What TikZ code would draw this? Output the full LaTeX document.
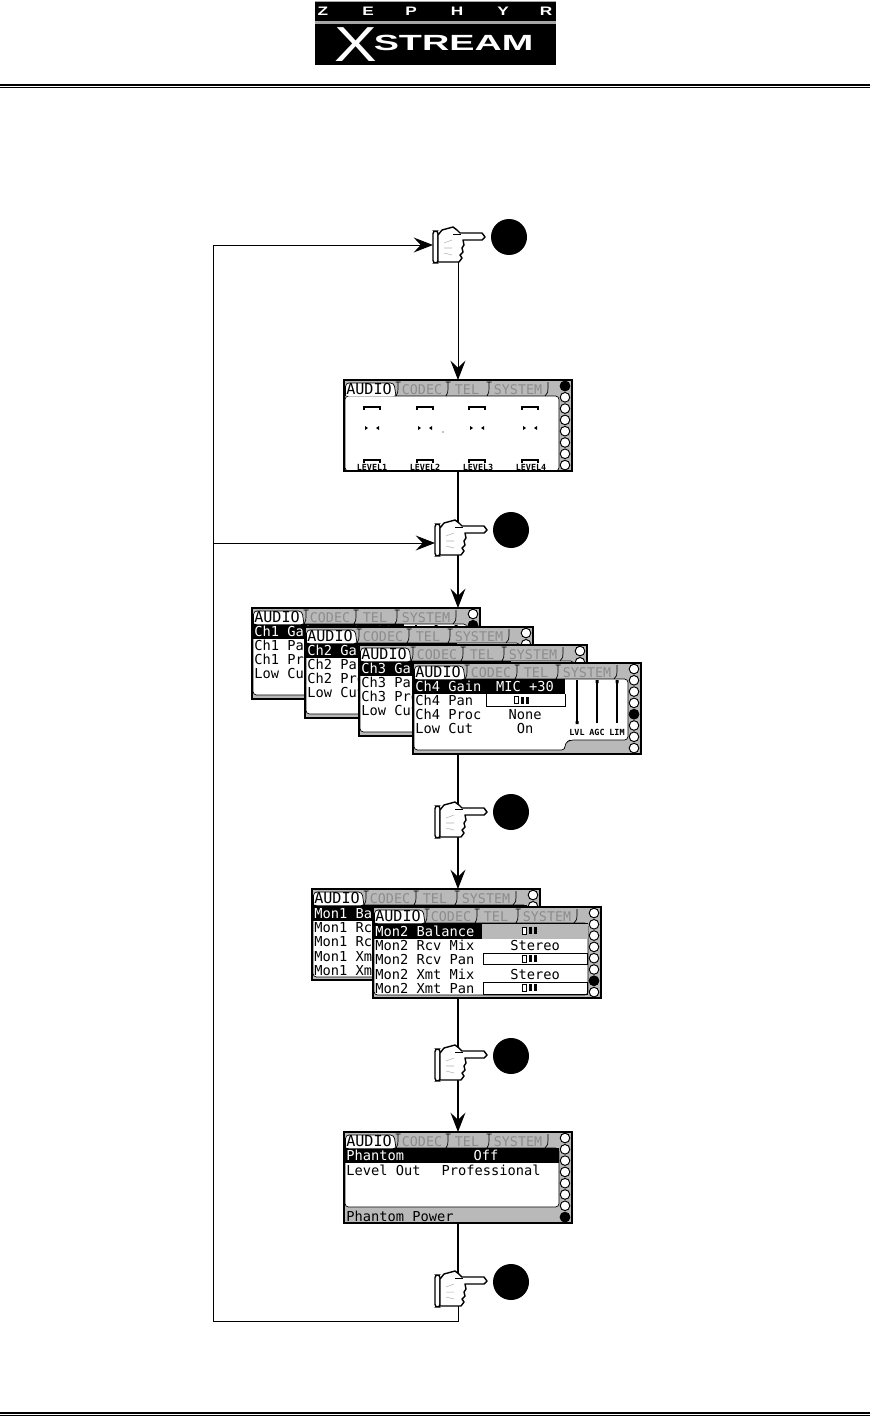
\documentclass[tikz,border=0pt]{standalone}
\usepackage{fontspec}
\usetikzlibrary{arrows.meta}
\setmonofont{DejaVu Sans Mono}
\setsansfont{Liberation Sans}

% the empty screen: gray frame, then #5 (its content), then tabs and the eight buttons
\newcommand{\lcdscreen}[5]{%
  \node[lcdframe] (#1) at (#2,#3) {};
  \begin{scope}[shift={(#1.north west)}]
    #5
    \fill[white, rounded corners=2] (1.5,16.3) -- (1.5,3) -- (50,3) -- (52,16.3) -- cycle;
    \draw[lcdthin, rounded corners=2] (1.5,16) -- (1.5,3) -- (50,3) -- (52,16);
    \draw[lcdthin] (52,16) .. controls (54,14) and (54,13) .. (54,2) (51.5,2) -- (56.5,2)
      (102,16) .. controls (104,14) and (104,13) .. (104,2) (101.5,2) -- (106.5,2)
      (143,16) .. controls (145,14) and (145,13) .. (145,2) (142.5,2) -- (147.5,2)
      (201,16) .. controls (204,14) and (204,13) .. (204,2);
    \node[lcdtab] (#1audio) at (25,9.5) {AUDIO};
    \node[lcdtabdim] (#1codec) at (78,9.5) {CODEC};
    \node[lcdtabdim] (#1tel) at (123,9.5) {TEL};
    \node[lcdtabdim] (#1system) at (174,9.5) {SYSTEM};
    \draw[lcdthin, line width=0.55pt, fill=white] (221,6) circle (4.8) (221,17.3) circle (4.8)
      (221,28.6) circle (4.8) (221,39.9) circle (4.8) (221,51.2) circle (4.8)
      (221,62.5) circle (4.8) (221,73.8) circle (4.8) (221,85.1) circle (4.8);
    \fill[black] (221,{6+(#4-1)*11.3}) circle (5.2);
  \end{scope}
  \draw[lcdline] (#1.north west) rectangle (#1.south east);
}
% the small balance glyph of a pan row
\newcommand{\lcdslider}[2]{%
  \draw[lcdthin, fill=white] (#1-8,#2-3.5) rectangle (#1-4,#2+3.5);
  \fill[black] (#1-1,#2-3.5) rectangle (#1+2,#2+3.5);
  \fill[black] (#1+3.5,#2-3.5) rectangle (#1+6.5,#2+3.5);
}
% input channel screen
\newcommand{\chscreen}[4]{%
  \lcdscreen{ch#1}{#2}{#3}{#4}{%
    \draw[lcdthin, fill=white, rounded corners=2] (1,16) -- (215,16) -- (215,77) -- (157,77)
      -- (152,80) -- (152,87) -- (1,87) -- cycle;
    \fill[black] (1,16) rectangle (152,31);
    \draw[lcdthin] (73,31) -- (73,43) -- (152,43) -- (152,31);
    \node[lcdrow, text=white] (ch#1gain) at (2,24) {Ch#1 Gain};
    \node[lcdvalue, text=white] (ch#1mic) at (112,24) {MIC +30};
    \node[lcdrow] (ch#1pan) at (2,38) {Ch#1 Pan};
    \lcdslider{109}{37}
    \node[lcdrow] (ch#1proc) at (2,52) {Ch#1 Proc};
    \node[lcdvalue] (ch#1none) at (112,52) {None};
    \node[lcdrow] (ch#1cut) at (2,66) {Low Cut};
    \node[lcdvalue] (ch#1on) at (112,66) {On};
    \draw[lcdthin, line width=0.6pt] (164,17) -- (164,60) (184,17) -- (184,60) (204,17) -- (204,60);
    \fill[black] (162.5,58) rectangle (165.5,61) (182.5,17) rectangle (185.5,20)
      (202.5,17) rectangle (205.5,20);
    \node[lcdtiny] (ch#1lvl) at (164,69) {LVL};
    \node[lcdtiny] (ch#1agc) at (184,69) {AGC};
    \node[lcdtiny] (ch#1lim) at (204,69) {LIM};
  }%
}
% monitor mix screen
\newcommand{\monscreen}[4]{%
  \lcdscreen{mon#1}{#2}{#3}{#4}{%
    \draw[lcdthin, fill=white, rounded corners=2] (1,16) rectangle (215,88);
    \fill[panelgray] (109,16) rectangle (214.5,32);
    \fill[black] (1,16) rectangle (109,32);
    \draw[lcdthin] (110,46) rectangle (214,57) (110,75) rectangle (214,87);
    \draw[lcdthin] (109,16.2) -- (215,16.2);
    \node[lcdrow, text=white] (mon#1bal) at (2,25) {Mon#1 Balance};
    \lcdslider{157}{23.5}
    \node[lcdrow] (mon#1rmix) at (2,39) {Mon#1 Rcv Mix};
    \node[lcdvalue] (mon#1rval) at (162,39) {Stereo};
    \node[lcdrow] (mon#1rpan) at (2,53) {Mon#1 Rcv Pan};
    \lcdslider{157}{51.5}
    \node[lcdrow] (mon#1xmix) at (2,68) {Mon#1 Xmt Mix};
    \node[lcdvalue] (mon#1xval) at (162,68) {Stereo};
    \node[lcdrow] (mon#1xpan) at (2,82) {Mon#1 Xmt Pan};
    \lcdslider{157}{80.5}
  }%
}

\begin{document}
\begin{tikzpicture}[x=0.02cm, y=-0.02cm, >={Stealth[length=11pt,width=8.5pt,inset=4pt]},
    lcdframe/.style={anchor=north west, fill=panelgray, inner sep=0pt, outer sep=0pt,
                     minimum width=4.56cm, minimum height=1.82cm},
    lcdline/.style={draw=black, line width=1.1pt},
    lcdthin/.style={draw=black, line width=0.4pt},
    lcdtab/.style={font=\ttfamily\fontsize{8.6}{9}\selectfont, inner sep=0pt,
                   text height=5.8pt, text depth=0pt},
    lcdtabdim/.style={font=\ttfamily\fontsize{7.6}{8}\selectfont, inner sep=0pt, text=tabgray,
                   text height=5.8pt, text depth=0pt},
    lcdrow/.style={anchor=west, font=\ttfamily\fontsize{7.8}{8}\selectfont, inner sep=0pt,
                   text height=5.6pt, text depth=0pt},
    lcdvalue/.style={lcdrow, anchor=center},
    lcdtiny/.style={font=\ttfamily\bfseries\fontsize{4.8}{5}\selectfont, inner sep=0pt},
    logoletter/.style={text=white, font=\sffamily\bfseries\fontsize{7}{7}\selectfont, inner sep=0pt},
    handspot/.style={minimum width=1.04cm, minimum height=0.72cm, inner sep=0pt, outer sep=0pt},
    badge/.style={circle, fill=black, minimum size=0.72cm, inner sep=0pt},
    flow/.style={draw=black, line width=0.9pt},
    flowthin/.style={draw=black, line width=0.55pt},
    pointhand/.pic={
      \draw[line width=0.8pt, fill=white, rounded corners=1.5] (-26,-14) rectangle (-21,18);
      \draw[line width=0.8pt, fill=white, line join=round] (-21,-10) -- (-17,-15) -- (-6,-18)
        -- (-2,-15) -- (1,-12) -- (23,-12) -- (26,-8) -- (23,-5) -- (4,-5) -- (5,0) -- (3,3)
        -- (4,7) -- (1,10) -- (3,13) -- (0,17) -- (-21,17) -- cycle;
      \draw[line width=1pt] (-6,-10.5) -- (2,-10.5);
      \draw[gray!60, line width=0.3pt] (-15,-2) -- (-7,-5) (-15,3) -- (-7,3) (-15,8) -- (-7,10);
    }]
  \definecolor{panelgray}{HTML}{B9B9B9}
  \definecolor{tabgray}{HTML}{8C8C8C}
  \useasboundingbox (0,0) rectangle (870,1416);

  % ---- the logo and the rules of the page
  \fill[black] (315,1) rectangle (556,65);
  \fill[gray!70] (315,1) rectangle (556,2.5);
  \fill[gray!70] (315,21.5) rectangle (556,24);
  \node[logoletter] (logoz) at (323,11) {\scalebox{1.4}[1]{Z}};
  \node[logoletter] (logoe) at (368,11) {\scalebox{1.4}[1]{E}};
  \node[logoletter] (logop) at (411,11) {\scalebox{1.4}[1]{P}};
  \node[logoletter] (logoh) at (457,11) {\scalebox{1.4}[1]{H}};
  \node[logoletter] (logoy) at (503,11) {\scalebox{1.4}[1]{Y}};
  \node[logoletter] (logor) at (546,11) {\scalebox{1.4}[1]{R}};
  \node[logoletter, font=\sffamily\fontsize{28}{28}\selectfont] (logox) at (356,45) {\scalebox{1.3}[1]{X}};
  \node[logoletter, font=\sffamily\bfseries\fontsize{12.5}{13}\selectfont] (logostream) at (453.5,43)
    {\scalebox{1.72}[1]{STREAM}};
  \draw[black, line width=1.2pt] (0,85) -- (870,85);
  \draw[black, line width=0.5pt] (0,87.7) -- (870,87.7);
  \draw[black, line width=1.2pt] (0,1413.2) -- (870,1413.2);
  \draw[black, line width=0.5pt] (0,1415.5) -- (870,1415.5);

  % ---- the meter screen
  \lcdscreen{meter}{344}{380}{1}{%
    \draw[lcdthin, fill=white, rounded corners=2] (1,16) -- (215,16) -- (215,91) -- (1,91) -- cycle;
    \draw[lcdthin, line width=0.6pt] (20,30) -- (20,27) -- (36,27) -- (36,30)
      (73,30) -- (73,27) -- (89,27) -- (89,30)
      (125,30) -- (125,27) -- (141,27) -- (141,30)
      (178,30) -- (178,27) -- (194,27) -- (194,30);
    \fill[black] (21,46) -- (24,48) -- (21,50) -- cycle (35,46) -- (32,48) -- (35,50) -- cycle
      (74,46) -- (77,48) -- (74,50) -- cycle (88,46) -- (85,48) -- (88,50) -- cycle
      (126,46) -- (129,48) -- (126,50) -- cycle (140,46) -- (137,48) -- (140,50) -- cycle
      (179,46) -- (182,48) -- (179,50) -- cycle (193,46) -- (190,48) -- (193,50) -- cycle;
    \fill[black] (99,52) circle (0.6);
    \draw[lcdthin, line width=0.6pt] (20,83) -- (20,80) -- (36,80) -- (36,83)
      (73,83) -- (73,80) -- (89,80) -- (89,83)
      (125,83) -- (125,80) -- (141,80) -- (141,83)
      (178,83) -- (178,80) -- (194,80) -- (194,83);
    \node[lcdtiny] (levela) at (28,87) {LEVEL1};
    \node[lcdtiny] (levelb) at (81,87) {LEVEL2};
    \node[lcdtiny] (levelc) at (134,87) {LEVEL3};
    \node[lcdtiny] (leveld) at (187,87) {LEVEL4};
  }

  % ---- the channel screens, the first at the back
  \chscreen{1}{252}{608}{2}
  \chscreen{2}{305}{627}{3}
  \chscreen{3}{359}{645}{4}
  \chscreen{4}{413}{663}{5}

  % ---- the monitor screens
  \monscreen{1}{312}{889}{6}
  \monscreen{2}{373}{907}{7}

  % ---- the phantom screen
  \lcdscreen{phantom}{344}{1132}{8}{%
    \draw[lcdthin, fill=white, rounded corners=2] (1,16) rectangle (215,75);
    \fill[black] (1,16) rectangle (215,31);
    \node[lcdrow, text=white] (phantomrow) at (2,24) {Phantom};
    \node[lcdvalue, text=white] (phantomval) at (142,24) {Off};
    \node[lcdrow] (levelrow) at (2,39) {Level Out};
    \node[lcdvalue] (levelval) at (147,39) {Professional};
    \node[lcdrow] (phantomhelp) at (2,85) {Phantom Power};
  }

  % ---- the five key presses
  \node[handspot] (press1) at (459,245) {};
  \node[handspot] (press2) at (461,543) {};
  \node[handspot] (press3) at (461,820) {};
  \node[handspot] (press4) at (461,1063) {};
  \node[handspot] (press5) at (461,1289) {};
  \node[badge] (badge1) at (509,237) {};
  \node[badge] (badge2) at (511,530) {};
  \node[badge] (badge3) at (511,812) {};
  \node[badge] (badge4) at (511,1056) {};
  \node[badge] (badge5) at (511,1282) {};

  % ---- the way down the page
  \coordinate (corner) at (213.5,1321);
  \coordinate (fork) at (corner |- press2.west);
  \draw[flowthin, ->] (press1 -| meter.north) -- (meter.north);
  \draw[flow] (meter.south) -- (press2 -| meter.south);
  \draw[flow, ->] (press2 -| meter.south) -- (meter.south |- ch1.north);
  \draw[flow] (meter.south |- ch4.south) -- (press3 -| meter.south);
  \draw[flow, ->] (press3 -| meter.south) -- (meter.south |- mon1.north);
  \draw[flow] (meter.south |- mon2.south) -- (press4 -| meter.south);
  \draw[flow, ->] (press4 -| meter.south) -- (phantom.north);
  \draw[flow] (phantom.south) -- (press5 -| meter.south);

  % ---- and back to the top
  \draw[flowthin, ->] (press5 -| meter.south) -- (meter.south |- corner) -- (corner)
    -- (corner |- press1.west) -- (press1.west);
  \draw[flowthin, ->] (fork) -- (press2.west);

  \pic at (press1) {pointhand};
  \pic[yshift=0.1cm] at (press2) {pointhand};
  \pic at (press3) {pointhand};
  \pic at (press4) {pointhand};
  \pic at (press5) {pointhand};
\end{tikzpicture}
\end{document}
